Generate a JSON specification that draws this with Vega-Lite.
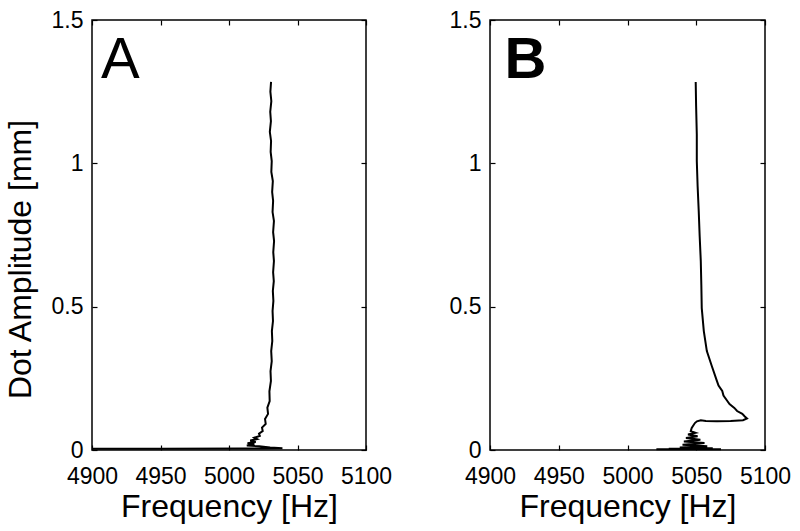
{
  "$schema": "https://vega.github.io/schema/vega-lite/v6.json",
  "background": "white",
  "padding": {"left": 3, "top": 8, "right": 5, "bottom": 5},
  "bounds": "flush",
  "spacing": 124,
  "datasets": {
    "A": [
      {"i": 1, "f": 5030.7, "amp": 1.284}, {"i": 2, "f": 5030.2, "amp": 1.25}, {"i": 3, "f": 5030.9, "amp": 1.217},
      {"i": 4, "f": 5030.1, "amp": 1.18}, {"i": 5, "f": 5030.6, "amp": 1.147}, {"i": 6, "f": 5029.8, "amp": 1.11},
      {"i": 7, "f": 5030.7, "amp": 1.078}, {"i": 8, "f": 5030.4, "amp": 1.04}, {"i": 9, "f": 5031.2, "amp": 1.008},
      {"i": 10, "f": 5030.9, "amp": 0.97}, {"i": 11, "f": 5032.0, "amp": 0.938}, {"i": 12, "f": 5031.5, "amp": 0.90},
      {"i": 13, "f": 5032.2, "amp": 0.869}, {"i": 14, "f": 5031.8, "amp": 0.83}, {"i": 15, "f": 5032.8, "amp": 0.799},
      {"i": 16, "f": 5032.2, "amp": 0.76}, {"i": 17, "f": 5032.9, "amp": 0.729}, {"i": 18, "f": 5032.3, "amp": 0.69},
      {"i": 19, "f": 5032.8, "amp": 0.659}, {"i": 20, "f": 5032.2, "amp": 0.62}, {"i": 21, "f": 5032.7, "amp": 0.589},
      {"i": 22, "f": 5032.0, "amp": 0.555}, {"i": 23, "f": 5032.4, "amp": 0.52}, {"i": 24, "f": 5031.8, "amp": 0.485},
      {"i": 25, "f": 5032.1, "amp": 0.45}, {"i": 26, "f": 5031.3, "amp": 0.415}, {"i": 27, "f": 5031.6, "amp": 0.38},
      {"i": 28, "f": 5030.8, "amp": 0.345}, {"i": 29, "f": 5031.2, "amp": 0.31}, {"i": 30, "f": 5030.3, "amp": 0.275},
      {"i": 31, "f": 5030.6, "amp": 0.241}, {"i": 32, "f": 5029.5, "amp": 0.205}, {"i": 33, "f": 5029.7, "amp": 0.171},
      {"i": 34, "f": 5028.0, "amp": 0.148}, {"i": 35, "f": 5028.5, "amp": 0.126}, {"i": 36, "f": 5026.3, "amp": 0.108},
      {"i": 37, "f": 5026.8, "amp": 0.091}, {"i": 38, "f": 5024.1, "amp": 0.078}, {"i": 39, "f": 5024.6, "amp": 0.066},
      {"i": 40, "f": 5021.9, "amp": 0.057}, {"i": 41, "f": 5022.5, "amp": 0.049}, {"i": 42, "f": 5018.5, "amp": 0.043},
      {"i": 43, "f": 5020.5, "amp": 0.038}, {"i": 44, "f": 5015.5, "amp": 0.033}, {"i": 45, "f": 5019.5, "amp": 0.028},
      {"i": 46, "f": 5013.5, "amp": 0.024}, {"i": 47, "f": 5018.5, "amp": 0.02}, {"i": 48, "f": 5013.0, "amp": 0.016},
      {"i": 49, "f": 5022.0, "amp": 0.013}, {"i": 50, "f": 5030.0, "amp": 0.009}, {"i": 51, "f": 5039.0, "amp": 0.006},
      {"i": 52, "f": 5025.0, "amp": 0.005}, {"i": 53, "f": 5012.0, "amp": 0.005}, {"i": 54, "f": 4950.0, "amp": 0.004},
      {"i": 55, "f": 4900.0, "amp": 0.004}
    ],
    "B": [
      {"i": 1, "f": 5049.6, "amp": 1.284}, {"i": 2, "f": 5049.9, "amp": 1.2}, {"i": 3, "f": 5050.4, "amp": 1.1},
      {"i": 4, "f": 5050.4, "amp": 1.008}, {"i": 5, "f": 5051.0, "amp": 0.92}, {"i": 6, "f": 5051.8, "amp": 0.834},
      {"i": 7, "f": 5052.5, "amp": 0.745}, {"i": 8, "f": 5053.3, "amp": 0.659}, {"i": 9, "f": 5053.7, "amp": 0.575},
      {"i": 10, "f": 5054.0, "amp": 0.495}, {"i": 11, "f": 5055.5, "amp": 0.415}, {"i": 12, "f": 5057.7, "amp": 0.345},
      {"i": 13, "f": 5061.3, "amp": 0.293}, {"i": 14, "f": 5065.0, "amp": 0.241}, {"i": 15, "f": 5066.2, "amp": 0.225},
      {"i": 16, "f": 5068.9, "amp": 0.206}, {"i": 17, "f": 5069.8, "amp": 0.19}, {"i": 18, "f": 5072.6, "amp": 0.171},
      {"i": 19, "f": 5074.2, "amp": 0.16}, {"i": 20, "f": 5077.7, "amp": 0.147}, {"i": 21, "f": 5079.7, "amp": 0.136},
      {"i": 22, "f": 5083.5, "amp": 0.126}, {"i": 23, "f": 5085.3, "amp": 0.117}, {"i": 24, "f": 5086.9, "amp": 0.11},
      {"i": 25, "f": 5084.0, "amp": 0.104}, {"i": 26, "f": 5075.0, "amp": 0.101}, {"i": 27, "f": 5065.0, "amp": 0.1},
      {"i": 28, "f": 5057.0, "amp": 0.101}, {"i": 29, "f": 5053.3, "amp": 0.104}, {"i": 30, "f": 5050.5, "amp": 0.1},
      {"i": 31, "f": 5049.0, "amp": 0.094}, {"i": 32, "f": 5046.7, "amp": 0.077}, {"i": 33, "f": 5046.0, "amp": 0.066},
      {"i": 34, "f": 5049.5, "amp": 0.06}, {"i": 35, "f": 5044.0, "amp": 0.054}, {"i": 36, "f": 5051.0, "amp": 0.048},
      {"i": 37, "f": 5042.5, "amp": 0.042}, {"i": 38, "f": 5053.0, "amp": 0.036}, {"i": 39, "f": 5041.0, "amp": 0.03},
      {"i": 40, "f": 5056.0, "amp": 0.024}, {"i": 41, "f": 5040.0, "amp": 0.018}, {"i": 42, "f": 5058.0, "amp": 0.013},
      {"i": 43, "f": 5038.0, "amp": 0.009}, {"i": 44, "f": 5062.0, "amp": 0.006}, {"i": 45, "f": 5030.0, "amp": 0.004},
      {"i": 46, "f": 5068.0, "amp": 0.003}, {"i": 47, "f": 5021.0, "amp": 0.003}
    ],
    "labelA": [{"label": "A", "f": 4906.6, "amp": 1.298}],
    "labelB": [{"label": "B", "f": 4910.5, "amp": 1.298}]
  },
  "hconcat": [
    {
      "width": 274,
      "height": 430,
      "layer": [
        {
          "data": {"name": "A"},
          "mark": {"type": "line", "color": "black", "strokeWidth": 2},
          "encoding": {
            "x": {"field": "f", "type": "quantitative", "scale": {"domain": [4900, 5100], "nice": false, "zero": false},
                  "axis": {"orient": "bottom", "values": [4900, 4950, 5000, 5050, 5100], "format": "d", "title": "Frequency [Hz]", "labelPadding": 20, "titlePadding": 3}},
            "y": {"field": "amp", "type": "quantitative", "scale": {"domain": [0, 1.5], "nice": false, "zero": false},
                  "axis": {"orient": "left", "values": [0, 0.5, 1, 1.5], "format": "~g", "title": "Dot Amplitude [mm]", "labelPadding": 14, "titlePadding": 14, "titleY": 239}},
            "order": {"field": "i", "type": "quantitative"}
          }
        },
        {
          "data": {"name": "labelA"},
          "mark": {"type": "text", "align": "left", "baseline": "alphabetic", "fontSize": 58, "font": "Liberation Sans", "color": "black"},
          "encoding": {
            "x": {"field": "f", "type": "quantitative", "axis": {"orient": "top", "values": [4900, 4950, 5000, 5050, 5100], "labels": false, "title": null}},
            "y": {"field": "amp", "type": "quantitative", "axis": {"orient": "right", "values": [0, 0.5, 1, 1.5], "labels": false, "title": null}},
            "text": {"field": "label"}
          }
        }
      ]
    },
    {
      "width": 275,
      "height": 430,
      "layer": [
        {
          "data": {"name": "B"},
          "mark": {"type": "line", "color": "black", "strokeWidth": 2},
          "encoding": {
            "x": {"field": "f", "type": "quantitative", "scale": {"domain": [4900, 5100], "nice": false, "zero": false},
                  "axis": {"orient": "bottom", "values": [4900, 4950, 5000, 5050, 5100], "format": "d", "title": "Frequency [Hz]", "labelPadding": 20, "titlePadding": 3}},
            "y": {"field": "amp", "type": "quantitative", "scale": {"domain": [0, 1.5], "nice": false, "zero": false},
                  "axis": {"orient": "left", "values": [0, 0.5, 1, 1.5], "format": "~g", "title": null, "labelPadding": 14}},
            "order": {"field": "i", "type": "quantitative"}
          }
        },
        {
          "data": {"name": "labelB"},
          "mark": {"type": "text", "align": "left", "baseline": "alphabetic", "fontSize": 58, "font": "Liberation Sans", "fontWeight": "bold", "color": "black"},
          "encoding": {
            "x": {"field": "f", "type": "quantitative", "axis": {"orient": "top", "values": [4900, 4950, 5000, 5050, 5100], "labels": false, "title": null}},
            "y": {"field": "amp", "type": "quantitative", "axis": {"orient": "right", "values": [0, 0.5, 1, 1.5], "labels": false, "title": null}},
            "text": {"field": "label"}
          }
        }
      ]
    }
  ],
  "config": {
    "view": {"stroke": "black", "strokeWidth": 1.5},
    "axis": {
      "domain": false, "grid": false,
      "tickColor": "black", "tickSize": -5, "tickWidth": 1.2,
      "labelFont": "Liberation Sans", "labelFontSize": 23, "labelColor": "black", "labelFlush": false,
      "titleFont": "Liberation Sans", "titleFontSize": 32, "titleFontWeight": "normal", "titleColor": "black"
    }
  }
}
